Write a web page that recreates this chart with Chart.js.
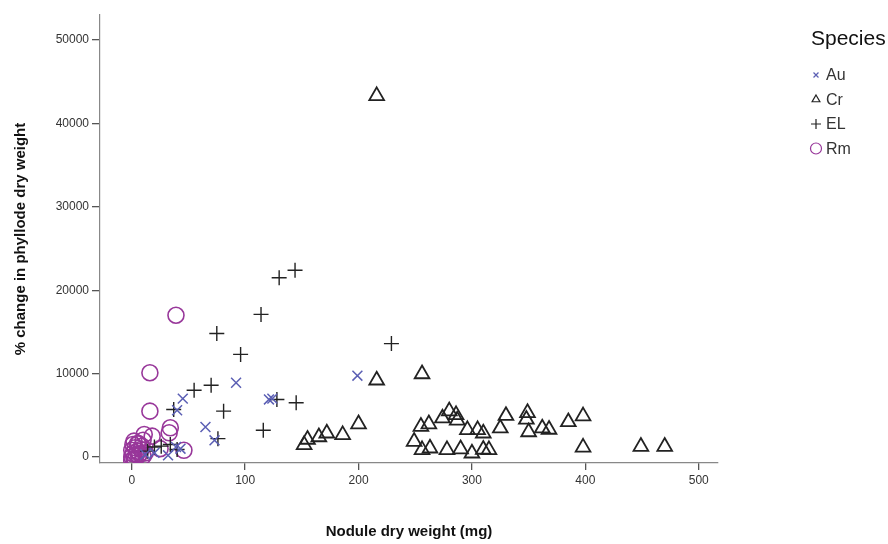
<!DOCTYPE html>
<html>
<head>
<meta charset="utf-8">
<script src="https://cdn.jsdelivr.net/npm/chart.js@4/dist/chart.umd.min.js"></script>
<style>
  html, body { margin: 0; padding: 0; background: #fff; }
  #wrap { width: 888px; height: 544px; }
</style>
</head>
<body>
<div id="wrap"><canvas id="chart" width="888" height="544"></canvas></div>
<script>
// species names
const species = ['Au', 'Cr', 'EL', 'Rm'];

// nodule dry weight (mg) and % change in phyllode dry weight
const auX = [92, 45, 40, 65, 73, 124, 121, 199, 32, 39, 43, 20, 12];
const auY = [8900, 7000, 5600, 3600, 2000, 7000, 6900, 9750, 200, 1200, 1000, 500, 300];

const crX = [216, 216, 256, 200, 186, 172, 165, 155, 152, 249, 256, 263, 255, 262, 274, 280, 286, 287,
             278, 290, 300, 310, 315, 296, 305, 310, 330, 325, 349, 348, 350, 362, 368, 398, 385, 398, 449, 470];
const crY = [43300, 9200, 9950, 3950, 2650, 2850, 2400, 2100, 1450, 1850, 850, 1050, 3650, 3950, 4650, 5500, 5050, 4400,
             850, 950, 450, 900, 850, 3250, 3250, 2850, 4950, 3450, 5300, 4500, 3000, 3450, 3300, 4900, 4200, 1150, 1250, 1250];

const elX = [130, 144, 114, 75, 96, 229, 55, 70, 37, 81, 128, 145, 116, 76, 26, 20, 40, 34, 14];
const elY = [21500, 22400, 17100, 14800, 12300, 13600, 8000, 8600, 5700, 5500, 6900, 6500, 3200, 2200, 1300, 1200, 900, 1500, 700];

const rmX = [39, 16, 16, 34, 33, 11, 18, 10, 6, 46, 25, 0, 1, 2, 0, 3, 1, 4, 5, 2, 0, 6, 3, 8, 7, 9, 5, 12, 10];
const rmY = [17000, 10100, 5500, 3500, 2900, 2700, 2500, 2000, 1600, 800, 1000, 0, 400, -200, 800, 1100, 1500, 300, 700,
             1900, -400, 200, -300, 900, 400, 1300, 1600, 500, 100];

const xTicks = [0, 100, 200, 300, 400, 500];
const yTicks = [0, 10000, 20000, 30000, 40000, 50000];

function pts(xs, ys) {
    return xs.map((x, i) => ({ x: x, y: ys[i] }));
}

const datasets = [
    { label: 'Au', data: pts(auX, auY), pointStyle: 'crossRot', radius: 7, borderColor: '#5b5fb4', borderWidth: 1.5 },
    { label: 'Cr', data: pts(crX, crY), pointStyle: 'triangle', radius: 8.5, borderColor: '#222', borderWidth: 1.8 },
    { label: 'EL', data: pts(elX, elY), pointStyle: 'cross', radius: 7.5, borderColor: '#222', borderWidth: 1.4 },
    { label: 'Rm', data: pts(rmX, rmY), pointStyle: 'circle', radius: 8, borderColor: '#98379a', borderWidth: 1.6 }
];
datasets.forEach(d => {
    d.backgroundColor = 'rgba(0,0,0,0)';
    d.pointRadius = d.radius;
    d.pointHoverRadius = d.radius;
});

// legend drawn on the right, like the SPSS one
const speciesLegend = {
    id: 'speciesLegend',
    afterDraw(chart) {
        const ctx = chart.ctx;
        ctx.save();
        ctx.fillStyle = '#111';
        ctx.font = '21px "Liberation Sans", Arial, sans-serif';
        ctx.textBaseline = 'middle';
        ctx.textAlign = 'left';
        ctx.fillText('Species', 811, 39);
        ctx.font = '16px "Liberation Sans", Arial, sans-serif';
        const sizes = [3.5, 4.5, 5, 5.5];
        chart.data.datasets.forEach((d, i) => {
            const y = 75 + i * 24.5;
            ctx.strokeStyle = d.borderColor;
            ctx.fillStyle = 'rgba(0,0,0,0)';
            ctx.lineWidth = 1.2;
            Chart.helpers.drawPoint(ctx, { pointStyle: d.pointStyle, radius: sizes[i], borderWidth: 1.2 }, 816, y);
            ctx.fillStyle = '#333';
            ctx.fillText(species[i], 826, y + 1);
        });
        ctx.restore();
    }
};

const tickFont = { size: 12, family: '"Liberation Sans", Arial, sans-serif' };
const titleFont = { size: 15, weight: 'bold', family: '"Liberation Sans", Arial, sans-serif' };

new Chart(document.getElementById('chart'), {
    type: 'scatter',
    data: { datasets: datasets },
    options: {
        responsive: false,
        animation: false,
        events: [],
        layout: { padding: { left: 0, right: 170, top: 15, bottom: 0 } },
        plugins: { legend: { display: false }, tooltip: { enabled: false } },
        scales: {
            x: {
                type: 'linear',
                min: -28,
                max: 517,
                afterBuildTicks: s => { s.ticks = xTicks.map(v => ({ value: v })); },
                afterFit: s => { s.height = 81; },
                grid: { drawOnChartArea: false, drawTicks: true, tickLength: 7, color: '#555', lineWidth: 1.3 },
                border: { display: true, color: '#888', width: 1.2 },
                ticks: { color: '#333', padding: 3, font: tickFont, callback: v => String(v) },
                title: { display: true, text: 'Nodule dry weight (mg)', color: '#111', font: titleFont,
                         padding: { top: 0, bottom: 3 } }
            },
            y: {
                type: 'linear',
                min: -720,
                max: 53000,
                afterBuildTicks: s => { s.ticks = yTicks.map(v => ({ value: v })); },
                afterFit: s => { s.width = 100; },
                grid: { drawOnChartArea: false, drawTicks: true, tickLength: 8, color: '#555', lineWidth: 1.3 },
                border: { display: true, color: '#888', width: 1.2 },
                ticks: { color: '#333', padding: 3, font: tickFont, callback: v => String(v) },
                title: { display: true, text: '% change in phyllode dry weight', color: '#111', font: titleFont,
                         padding: { top: 12, bottom: 0 } }
            }
        }
    },
    plugins: [speciesLegend]
});
</script>
</body>
</html>
